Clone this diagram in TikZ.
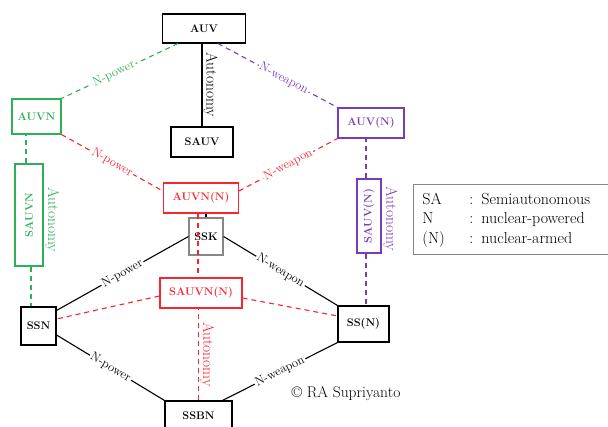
\documentclass[tikz,border=0pt]{standalone}
\usepackage{tikz}
\definecolor{npgreen}{RGB}{46,176,86}
\definecolor{nwred}{RGB}{250,36,48}
\definecolor{nwpurple}{RGB}{118,62,182}
\definecolor{boxgray}{RGB}{135,135,135}

\begin{document}
\begin{tikzpicture}[x=1pt, y=-1pt, line width=1.1pt,
    box/.style={draw, inner sep=0pt, font=\fontsize{11}{12}\selectfont\bfseries},
    dsh/.style={dash pattern=on 5pt off 4pt},
    elbl/.style={midway, sloped, fill=white, inner sep=1.5pt, font=\fontsize{12.5}{14}\selectfont},
    autlbl/.style={rotate=-90, anchor=south, inner sep=1pt, font=\fontsize{15.5}{17}\selectfont}]
    \useasboundingbox (0,0) rectangle (608,427);
    \clip (0,0) rectangle (608,427);
    \node[box, minimum width=83, minimum height=29] (auv) at (204,28.5) {AUV};
    \node[box, minimum width=62, minimum height=30] (sauv) at (202,142) {SAUV};
    \node[box, npgreen, minimum width=49, minimum height=35] (auvn) at (36.5,116.5) {AUVN};
    \node[box, nwpurple, minimum width=66, minimum height=30] (auvw) at (371,123) {AUV(N)};
    \node[box, nwred, minimum width=75, minimum height=30] (auvnw) at (201,198) {AUVN(N)};
    \node[box, draw=boxgray, minimum width=34, minimum height=37] (ssk) at (206,236.5) {SSK};
    \node[box, nwred, minimum width=82, minimum height=30] (sauvnw) at (201,293) {SAUVN(N)};
    \node[box, npgreen, rotate=90, minimum width=102, minimum height=28] (sauvn) at (29,215) {SAUVN};
    \node[box, nwpurple, rotate=90, minimum width=74, minimum height=24] (sauvw) at (369,216) {SAUV(N)};
    \node[box, minimum width=35, minimum height=38] (ssn) at (38.5,326) {SSN};
    \node[box, minimum width=51, minimum height=36] (ssw) at (363.5,324) {SS(N)};
    \node[box, minimum width=67, minimum height=30] (ssbn) at (198.5,416) {SSBN};
    \draw[npgreen, dsh] ([xshift=-26pt]auv.south) -- (auvn.north east) node[elbl, pos=.55] {N-power};
    \draw[nwpurple, dsh] ([xshift=14pt]auv.south) -- (auvw.north west) node[elbl, pos=.55] {N-weapon};
    \draw[nwred, dsh] (auvn.south east) -- ([yshift=7pt]auvnw.west) node[elbl] {N-power};
    \draw[nwred, dsh] ([yshift=7pt]auvnw.east) -- (auvw.south west) node[elbl] {N-weapon};
    \draw (sauv) -- (sauv |- auv.south) node[autlbl, midway] {Autonomy};
    \draw (ssk) -- (ssk |- auvnw.south);
    \draw[nwred, dsh] ([xshift=-3pt]auvnw.south) -- ([xshift=-3pt]sauvnw.north);
    \draw[nwred, dsh] (ssbn) -- (ssbn |- sauvnw.south) node[autlbl, midway] {Autonomy};
    \draw[npgreen, dsh] ([xshift=-3pt]sauvn.east) -- ([xshift=-3pt]sauvn.east |- auvn.south);
    \draw[npgreen, dsh] ([xshift=2pt]sauvn.west) -- ([xshift=2pt]sauvn.west |- ssn.north);
    \node[autlbl, npgreen] (autn) at ([yshift=-5pt]sauvn.south) {Autonomy};
    \draw[nwpurple, dsh] ([xshift=-3pt]sauvw.east) -- ([xshift=-3pt]sauvw.east |- auvw.south);
    \draw[nwpurple, dsh] ([xshift=-3pt]sauvw.west) -- ([xshift=-3pt]sauvw.west |- ssw.north);
    \node[autlbl, nwpurple] (autw) at ([yshift=-3pt]sauvw.south) {Autonomy};
    \draw (ssk.west) -- ([yshift=-4pt]ssn.north east) node[elbl] {N-power};
    \draw (ssk.east) -- (ssw.north west) node[elbl] {N-weapon};
    \draw ([yshift=-9pt]ssn.east) -- (ssbn.north west) node[elbl] {N-power};
    \draw (ssw.south west) -- ([xshift=-10pt]ssbn.north east) node[elbl] {N-weapon};
    \draw[nwred, dsh] ([yshift=-3pt]sauvnw.west) -- ([yshift=7pt]ssn.east);
    \draw[nwred, dsh] ([yshift=-5pt]sauvnw.east) -- ([yshift=8pt]ssw.west);
    \node[draw=boxgray, line width=0.8pt, anchor=north west, inner xsep=9pt, inner ysep=6pt, text width=195pt, align=left, font=\fontsize{16}{19.5}\selectfont] (legend) at (413,184)
        {\begin{tabular}{@{}p{47pt}@{}l@{}}SA & : Semiautonomous\\ N & : nuclear-powered\\ (N) & : nuclear-armed\end{tabular}};
    \node[font=\fontsize{15.5}{18}\selectfont] (copy) at (346,394) {\textcopyright{} RA Supriyanto};
\end{tikzpicture}
\end{document}
